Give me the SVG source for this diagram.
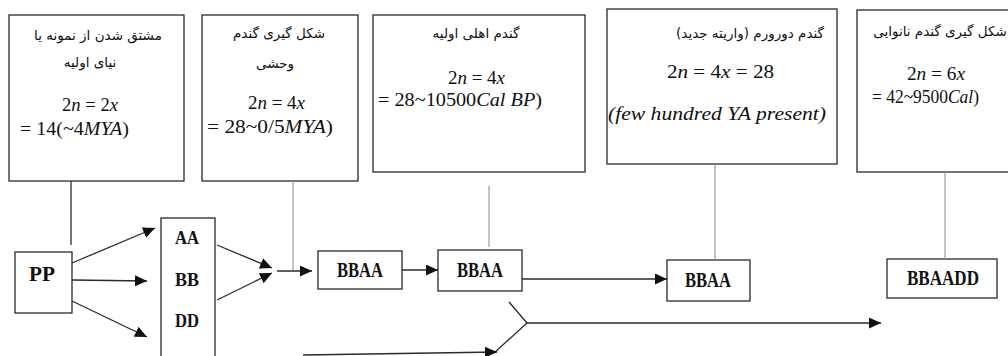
<svg xmlns="http://www.w3.org/2000/svg" width="1008" height="356" viewBox="0 0 1008 356">
<defs>
<style>
.box{fill:#fff;stroke:#2a2a2a;stroke-width:1.3}
.fa{font-family:"DejaVu Sans",sans-serif;font-size:13.5px;fill:#111;text-anchor:middle}
.m{font-family:"Liberation Serif",serif;font-size:19px;fill:#111}
.s{font-size:18px}
.i{font-style:italic}
.lbl{font-family:"Liberation Serif",serif;font-weight:bold;fill:#111;text-anchor:middle}
.ln{fill:none;stroke:#2a2a2a;stroke-width:1.3}
.gr{fill:none;stroke:#9a9a9a;stroke-width:1.2}
.ar{fill:none;stroke:#2a2a2a;stroke-width:1.3;marker-end:url(#ah)}
</style>
<marker id="ah" markerUnits="userSpaceOnUse" markerWidth="13" markerHeight="11" refX="12" refY="5.5" orient="auto">
<path d="M0,0 L12,5.5 L0,11 Z" fill="#111"/>
</marker>
</defs>
<rect width="1008" height="356" fill="#fff"/>

<g id="info1">
<rect class="box" x="9" y="15" width="175" height="166"/>
<text class="fa" x="98" y="40" direction="rtl">مشتق شدن از نمونه یا</text>
<text class="fa" x="90" y="67" direction="rtl">نیای اولیه</text>
<text class="m" x="62" y="111" textLength="56" lengthAdjust="spacingAndGlyphs">2<tspan class="i">n</tspan> = 2<tspan class="i">x</tspan></text>
<text class="m" x="20" y="135" textLength="109" lengthAdjust="spacingAndGlyphs">= 14(~4<tspan class="i">MYA</tspan>)</text>
</g>

<g id="info2">
<rect class="box" x="202" y="15" width="156" height="166"/>
<text class="fa" x="279" y="38" direction="rtl">شکل گیری گندم</text>
<text class="fa" x="275" y="68" direction="rtl">وحشی</text>
<text class="m" x="248" y="109" textLength="57" lengthAdjust="spacingAndGlyphs">2<tspan class="i">n</tspan> = 4<tspan class="i">x</tspan></text>
<text class="m" x="207" y="133" textLength="126" lengthAdjust="spacingAndGlyphs">= 28~0/5<tspan class="i">MYA</tspan>)</text>
</g>

<g id="info3">
<rect class="box" x="373" y="15" width="212" height="157"/>
<text class="fa" x="476" y="38" direction="rtl">گندم اهلی اولیه</text>
<text class="m s" x="448" y="84" textLength="57" lengthAdjust="spacingAndGlyphs">2<tspan class="i">n</tspan> = 4<tspan class="i">x</tspan></text>
<text class="m s" x="378" y="106" textLength="164" lengthAdjust="spacingAndGlyphs">= 28~10500<tspan class="i">Cal BP</tspan>)</text>
</g>

<g id="info4">
<rect class="box" x="607" y="9" width="230" height="155"/>
<text class="fa" x="750" y="38" direction="rtl">گندم دورورم (واریته جدید)</text>
<text class="m" x="667" y="78" textLength="107" lengthAdjust="spacingAndGlyphs">2<tspan class="i">n</tspan> = 4<tspan class="i">x</tspan> = 28</text>
<text class="m i" x="608" y="120" textLength="218" lengthAdjust="spacingAndGlyphs">(few hundred YA present)</text>
</g>

<g id="info5">
<rect class="box" x="857" y="10" width="160" height="162"/>
<text class="fa" x="940" y="36" direction="rtl">شکل گیری گندم نانوایی</text>
<text class="m s" x="907" y="80" textLength="58" lengthAdjust="spacingAndGlyphs">2<tspan class="i">n</tspan> = 6<tspan class="i">x</tspan></text>
<text class="m s" x="872" y="103" textLength="107" lengthAdjust="spacingAndGlyphs">= 42~9500<tspan class="i">Cal</tspan>)</text>
</g>

<g id="pp">
<rect class="box" x="15" y="252" width="57" height="61"/>
<text class="lbl" x="42" y="281" font-size="22" textLength="26" lengthAdjust="spacingAndGlyphs">PP</text>
</g>

<g id="genomes">
<rect class="box" x="161" y="218" width="54" height="150"/>
<text class="lbl" x="187" y="244" font-size="18" textLength="24" lengthAdjust="spacingAndGlyphs">AA</text>
<text class="lbl" x="187" y="286" font-size="18" textLength="24" lengthAdjust="spacingAndGlyphs">BB</text>
<text class="lbl" x="187" y="327" font-size="18" textLength="24" lengthAdjust="spacingAndGlyphs">DD</text>
</g>

<g id="bbaa1">
<rect class="box" x="318" y="251" width="84" height="38"/>
<text class="lbl" x="360" y="277" font-size="20" textLength="46" lengthAdjust="spacingAndGlyphs">BBAA</text>
</g>

<g id="bbaa2">
<rect class="box" x="438" y="250" width="84" height="41"/>
<text class="lbl" x="480" y="277" font-size="20" textLength="46" lengthAdjust="spacingAndGlyphs">BBAA</text>
</g>

<g id="bbaa3">
<rect class="box" x="667" y="260" width="83" height="41"/>
<text class="lbl" x="708" y="287" font-size="20" textLength="46" lengthAdjust="spacingAndGlyphs">BBAA</text>
</g>

<g id="bbaadd">
<rect class="box" x="887" y="259" width="110" height="39"/>
<text class="lbl" x="943" y="285" font-size="20" textLength="72" lengthAdjust="spacingAndGlyphs">BBAADD</text>
</g>

<g id="connectors">
<line class="ln" x1="71" y1="181" x2="71" y2="245"/>
<line class="gr" x1="293" y1="181" x2="293" y2="270"/>
<line class="gr" x1="489" y1="186" x2="489" y2="247"/>
<line class="gr" x1="715" y1="164" x2="715" y2="260"/>
<line class="gr" x1="945" y1="172" x2="945" y2="259"/>
<line class="ar" x1="72" y1="263" x2="155" y2="228"/>
<line class="ar" x1="72" y1="280" x2="147" y2="281"/>
<line class="ar" x1="72" y1="301" x2="147" y2="337"/>
<line class="ar" x1="217" y1="245" x2="272" y2="268"/>
<line class="ar" x1="217" y1="300" x2="272" y2="273"/>
<line class="ar" x1="277" y1="271" x2="312" y2="271"/>
<line class="ar" x1="402" y1="270" x2="438" y2="270"/>
<line class="ar" x1="522" y1="279" x2="667" y2="279"/>
<line class="ar" x1="527" y1="323" x2="881" y2="323"/>
<polyline class="ln" points="509,302 527,323 494,353"/>
<line class="ar" x1="303" y1="355" x2="497" y2="352"/>
</g>
</svg>
